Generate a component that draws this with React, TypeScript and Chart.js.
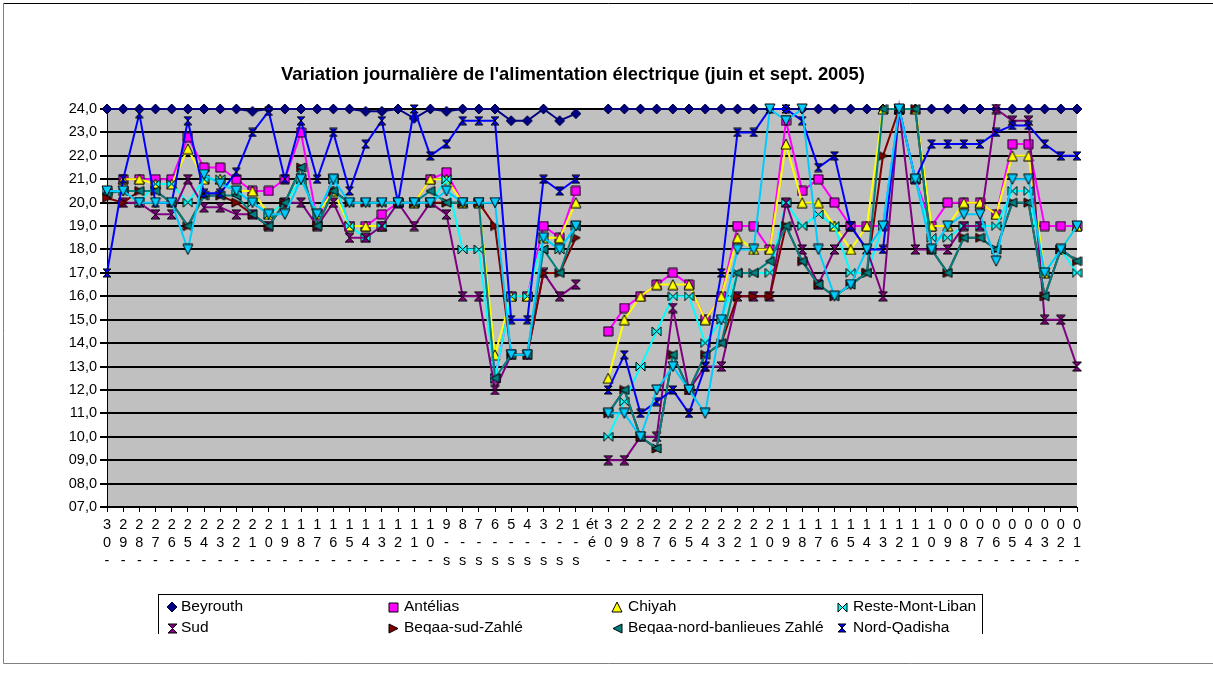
import React, { useEffect, useRef } from "react";
import { Chart, registerables } from "chart.js";

Chart.register(...registerables);

// ---------- data ----------
const categories: string[] = [
  "30-", "29-", "28-", "27-", "26-", "25-", "24-", "23-", "22-", "21-",
  "20-", "19-", "18-", "17-", "16-", "15-", "14-", "13-", "12-", "11-",
  "10-", "9-s", "8-s", "7-s", "6-s", "5-s", "4-s", "3-s", "2-s", "1-s",
  "été",
  "30-", "29-", "28-", "27-", "26-", "25-", "24-", "23-", "22-", "21-",
  "20-", "19-", "18-", "17-", "16-", "15-", "14-", "13-", "12-", "11-",
  "10-", "09-", "08-", "07-", "06-", "05-", "04-", "03-", "02-", "01-",
];

const yTickMin = 7;
const yTickMax = 24;
const yTickStep = 1;

const beyrouth = [
  24, 24, 24, 24, 24, 24, 24, 24, 24, 23.9, 24, 24, 24, 24, 24, 24, 23.9, 23.9, 24, 23.6, 24, 23.9, 24, 24, 24, 23.5, 23.5, 24, 23.5, 23.8,
  null,
  24, 24, 24, 24, 24, 24, 24, 24, 24, 24, 24, 24, 24, 24, 24, 24, 24, 24, 24, 24, 24, 24, 24, 24, 24, 24, 24, 24, 24, 24,
];
const antelias = [
  null, 21, 21, 21, 21, 22.8, 21.5, 21.5, 21, 20.5, 20.5, 21, 23, 19.2, 21, 19, 19, 19.5, 20, 20, 21, 21.3, 20, 20, 12.5, 16, 16, 19, 18.5, 20.5,
  null,
  14.5, 15.5, 16, 16.5, 17, 16.5, 15, 16, 19, 19, 18, 23.5, 20.5, 21, 20, 19, 19, 19, 24, 21, 19, 20, 20, 20, 19.5, 22.5, 22.5, 19, 19, 19,
];
const chiyah = [
  null, 21, 21, 20.8, 20.8, 22.3, 21, 21, 20.5, 20.5, 19.5, 20, 21, 19.5, 20.5, 19, 19, 19, 20, 20, 21, 21, 20, 20, 13.5, 16, 16, 18.5, 18.5, 20,
  null,
  12.5, 15, 16, 16.5, 16.5, 16.5, 15, 16, 18.5, 18, 18, 22.5, 20, 20, 19, 18, 19, 24, 24, 24, 19, 19, 20, 20, 19.5, 22, 22, 17, 18, 19,
];
const resteMontLiban = [
  20.5, 20.5, 20, 20.8, 20.8, 20, 21, 21, 20.5, 20, 19.5, 20, 21, 19.5, 21, 19, 18.5, 19, 20, 20, 20, 21, 18, 18, 12.5, 16, 16, 18.5, 18, 19,
  null,
  10, 11.5, 13, 14.5, 16, 16, 14, 15, 17, 17, 17, 20, 19, 19.5, 19, 17, 17, 19, 24, 21, 18.5, 18.5, 19, 19, 19, 20.5, 20.5, 17, 18, 17,
];
const sud = [
  null, 20, 20, 19.5, 19.5, 21, 19.8, 19.8, 19.5, 19.5, 19, 20, 20, 19, 20, 18.5, 18.5, 19, 20, 19, 20, 19.5, 16, 16, 12, 13.5, 13.5, 17, 16, 16.5,
  null,
  9, 9, 10, 10, 15.5, 12, 13, 13, 16, 16, 16, 20, 18, 16.5, 18, 19, 18, 16, 24, 18, 18, 18, 19, 19, 24, 23.5, 23.5, 15, 15, 13,
];
const beqaaSudZahle = [
  20.2, 20, 20.5, 20.5, 20, 19, 20.3, 20.3, 20, 19.5, 19, 20, 21.5, 19, 20.5, 20, 20, 20, 20, 20, 20, 20, 20, 20, 19, 13.5, 13.5, 17, 17, 18.5,
  null,
  11, 12, 10, 9.5, 13.5, 12, 13.5, 14, 16, 16, 16, 19, 17.5, 16.5, 16, 16.5, 17, 22, 24, 24, 18, 17, 18.5, 18.5, 18, 20, 20, 16, 18, 17.5,
];
const beqaaNord = [
  20.4, 20.5, 20.5, 20.5, 20, 19, 20.3, 20.3, 20.3, 19.5, 19, 20, 21.5, 19, 20.5, 20, 20, 20, 20, 20, 20.5, 20, 20, 20, 12.5, 13.5, 13.5, 18, 17, 19,
  null,
  11, 12, 10, 9.5, 13.5, 12, 13.5, 14, 17, 17, 17.5, 19, 17.5, 16.5, 16, 16.5, 17, 24, 24, 24, 18, 17, 18.5, 18.5, 18, 20, 20, 16, 18, 17.5,
];
const nordQadisha = [
  17, 21, 23.8, 20, 20, 23.5, 20.4, 20.4, 21.3, 23, 23.9, 21, 23.5, 21, 23, 20.5, 22.5, 23.5, 20, 24, 22, 22.5, 23.5, 23.5, 23.5, 15, 15, 21, 20.5, 21,
  null,
  12, 13.5, 11, 11.5, 12, 11, 13, 17, 23, 23, 24, 24, 23.5, 21.5, 22, 19, 18, 18, 24, 21, 22.5, 22.5, 22.5, 22.5, 23, 23.3, 23.3, 22.5, 22, 22,
];
// ninth series: its legend entry falls below the clipped legend box
const serie9 = [
  20.5, 20.5, 20, 20, 20, 18, 21.2, 20.8, 20.5, 20, 19.5, 19.5, 21, 19.5, 21, 20, 20, 20, 20, 20, 20, 20.5, 20, 20, 20, 13.5, 13.5, 18.5, 18, 19,
  null,
  11, 11, 10, 12, 13, 12, 11, 15, 18, 18, 24, 23.5, 24, 18, 16, 16.5, 18, 19, 24, 21, 18, 19, 19.5, 19.5, 17.5, 21, 21, 17, 18, 19,
];

const seriesNames = [
  "Beyrouth", "Antélias", "Chiyah", "Reste-Mont-Liban",
  "Sud", "Beqaa-sud-Zahlé", "Beqaa-nord-banlieues Zahlé", "Nord-Qadisha", "",
];
const titleText = "Variation journalière de l'alimentation électrique (juin et sept. 2005)";

// ---------- styling ----------
const FONT = '"Liberation Sans", Arial, sans-serif';

type Shape = "diamond" | "square" | "triUp" | "bowtie" | "hourglass" | "triRight" | "triLeft" | "triDown";

const styles: { color: string; shape: Shape; fill: string; stroke: string; size: number }[] = [
  { color: "#000080", shape: "diamond", fill: "#000080", stroke: "#000040", size: 10 },
  { color: "#FF00FF", shape: "square", fill: "#FF00FF", stroke: "#000000", size: 9 },
  { color: "#FFFF00", shape: "triUp", fill: "#FFFF00", stroke: "#000000", size: 10 },
  { color: "#00FFFF", shape: "bowtie", fill: "#00FFFF", stroke: "#000000", size: 9 },
  { color: "#800080", shape: "hourglass", fill: "#800080", stroke: "#000000", size: 9 },
  { color: "#800000", shape: "triRight", fill: "#800000", stroke: "#000000", size: 9 },
  { color: "#008080", shape: "triLeft", fill: "#008080", stroke: "#000000", size: 9 },
  { color: "#0000FF", shape: "hourglass", fill: "#0000FF", stroke: "#000000", size: 8 },
  { color: "#00CCFF", shape: "triDown", fill: "#00CCFF", stroke: "#000000", size: 10 },
];

function makeMarker(shape: Shape, fill: string, stroke: string, size: number): HTMLCanvasElement {
  const c = document.createElement("canvas");
  const s = size + 2;
  c.width = s;
  c.height = s;
  const ctx = c.getContext("2d")!;
  const S = size;
  const h = S / 2;
  ctx.translate(1, 1);
  ctx.beginPath();
  switch (shape) {
    case "diamond":
      ctx.moveTo(h, 0); ctx.lineTo(S, h); ctx.lineTo(h, S); ctx.lineTo(0, h);
      break;
    case "square":
      ctx.rect(0, 0, S, S);
      break;
    case "triUp":
      ctx.moveTo(h, 0); ctx.lineTo(S, S); ctx.lineTo(0, S);
      break;
    case "triDown":
      ctx.moveTo(0, 0); ctx.lineTo(S, 0); ctx.lineTo(h, S);
      break;
    case "triRight":
      ctx.moveTo(0, 0); ctx.lineTo(S, h); ctx.lineTo(0, S);
      break;
    case "triLeft":
      ctx.moveTo(S, 0); ctx.lineTo(0, h); ctx.lineTo(S, S);
      break;
    case "bowtie":
      ctx.moveTo(0, 0); ctx.lineTo(h, h); ctx.lineTo(S, 0); ctx.lineTo(S, S); ctx.lineTo(h, h); ctx.lineTo(0, S);
      break;
    case "hourglass":
      ctx.moveTo(0, 0); ctx.lineTo(S, 0); ctx.lineTo(h, h); ctx.lineTo(S, S); ctx.lineTo(0, S); ctx.lineTo(h, h);
      break;
  }
  ctx.closePath();
  ctx.fillStyle = fill;
  ctx.fill();
  ctx.lineWidth = 1;
  ctx.strokeStyle = stroke;
  ctx.stroke();
  return c;
}

function splitLabel(l: string): string[] {
  if (l === "été") return ["ét", "é"];
  return l.split("");
}

function fmtY(v: number): string {
  const s = Math.abs(v).toFixed(1).replace(".", ",");
  return v < 10 ? "0" + s : s;
}

export default function App() {
  const ref = useRef<HTMLCanvasElement | null>(null);

  useEffect(() => {
    const canvas = ref.current;
    if (!canvas) return;
    const allData = [beyrouth, antelias, chiyah, resteMontLiban, sud, beqaaSudZahle, beqaaNord, nordQadisha, serie9];
    const markers = styles.map((s) => makeMarker(s.shape, s.fill, s.stroke, s.size));

    const datasets = allData.map((d, i) => ({
      label: seriesNames[i],
      data: d,
      borderColor: styles[i].color,
      backgroundColor: styles[i].color,
      borderWidth: 2,
      pointStyle: markers[i] as any,
      pointRadius: 5,
      spanGaps: false,
      tension: 0,
      clip: false,
      order: allData.length - i,
    }));

    const framePlugin = {
      id: "frameBg",
      beforeDraw(chart: any) {
        const { ctx, chartArea } = chart;
        ctx.save();
        ctx.fillStyle = "#ffffff";
        ctx.fillRect(0, 0, chart.width, chart.height);
        ctx.strokeStyle = "#000000";
        ctx.lineWidth = 1;
        ctx.beginPath();
        ctx.moveTo(3.5, 3.5);
        ctx.lineTo(chart.width, 3.5);
        ctx.stroke();
        ctx.strokeStyle = "#808080";
        ctx.beginPath();
        ctx.moveTo(3.5, 3.5);
        ctx.lineTo(3.5, 663.5);
        ctx.lineTo(chart.width, 663.5);
        ctx.stroke();
        ctx.fillStyle = "#C0C0C0";
        ctx.fillRect(chartArea.left, chartArea.top, chartArea.right - chartArea.left, chartArea.bottom - chartArea.top);
        ctx.restore();
      },
      afterDraw(chart: any) {
        const { ctx } = chart;
        ctx.save();
        // title
        ctx.fillStyle = "#000";
        ctx.font = `bold 18.4px ${FONT}`;
        ctx.textAlign = "center";
        ctx.textBaseline = "middle";
        ctx.fillText(titleText, 573, 75);
        // legend (clipped at bottom as in the source)
        ctx.beginPath();
        ctx.rect(0, 0, chart.width, 634);
        ctx.clip();
        ctx.fillStyle = "#ffffff";
        ctx.fillRect(158, 594, 824, 60);
        ctx.strokeStyle = "#000";
        ctx.lineWidth = 1;
        ctx.strokeRect(158.5, 594.5, 824, 60);
        const colMarker = [172, 393, 617, 842];
        const colText = [181, 404, 628, 853];
        const rows = [607, 628];
        ctx.font = `15.5px ${FONT}`;
        ctx.textAlign = "left";
        ctx.textBaseline = "middle";
        for (let i = 0; i < 8; i++) {
          const r = Math.floor(i / 4);
          const c = i % 4;
          const m = markers[i];
          ctx.drawImage(m, Math.round(colMarker[c] - m.width / 2), Math.round(rows[r] - m.height / 2));
          ctx.fillStyle = "#000";
          ctx.fillText(seriesNames[i], colText[c], rows[r]);
        }
        ctx.restore();
      },
    };

    const chart = new Chart(canvas, {
      type: "line",
      data: { labels: categories.map(splitLabel), datasets: datasets as any },
      plugins: [framePlugin],
      options: {
        animation: false,
        responsive: false,
        devicePixelRatio: 1,
        layout: { padding: { left: 0, top: 109, right: 136, bottom: 71 } },
        plugins: {
          legend: { display: false },
          title: { display: false },
          tooltip: { enabled: false },
        },
        elements: { line: { borderWidth: 2 } },
        scales: {
          x: {
            type: "category",
            offset: false,
            afterFit: (s: any) => { s.height = 100; },
            grid: {
              display: true,
              drawOnChartArea: false,
              drawTicks: true,
              tickLength: 5,
              color: "#000",
              lineWidth: 1,
              offset: false,
            },
            border: { display: true, color: "#000", width: 1 },
            ticks: {
              autoSkip: false,
              maxRotation: 0,
              minRotation: 0,
              padding: 4,
              color: "#000",
              font: { family: FONT, size: 14.5, lineHeight: 18 / 14.5 },
            },
          },
          y: {
            min: yTickMin,
            max: yTickMax,
            afterFit: (s: any) => { s.width = 107; },
            grid: {
              color: "#000",
              lineWidth: 2,
              drawTicks: true,
              tickLength: 7,
            },
            border: { display: true, color: "#000", width: 1 },
            ticks: {
              stepSize: yTickStep,
              padding: 3,
              color: "#000",
              font: { family: FONT, size: 14.5 },
              callback: (v: any) => fmtY(Number(v)),
            },
          },
        },
      },
    });
    return () => chart.destroy();
  }, []);

  return (
    <div style={{ position: "fixed", left: 0, top: 0, width: 1213, height: 678, background: "#fff" }}>
      <canvas ref={ref} width={1213} height={678} style={{ display: "block", width: 1213, height: 678 }} />
    </div>
  );
}
